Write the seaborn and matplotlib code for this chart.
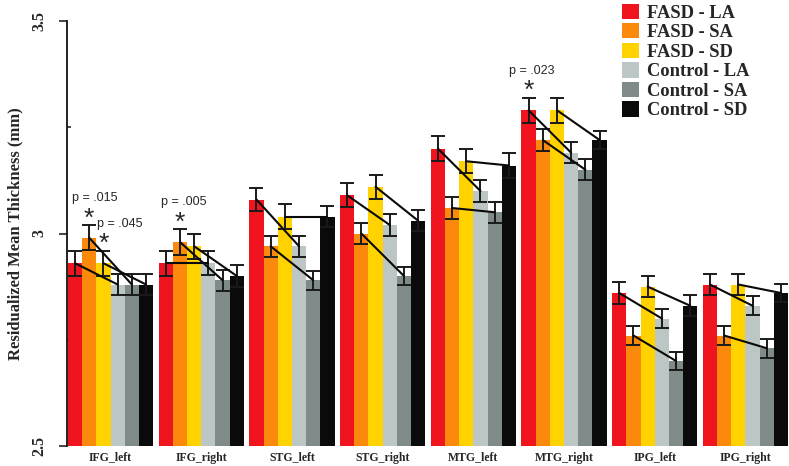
import numpy as np
import pandas as pd
import matplotlib
matplotlib.use("Agg")
import matplotlib.pyplot as plt
from matplotlib.patches import Patch
import seaborn as sns

#--> Data
regions = ["IFG_left", "IFG_right", "STG_left", "STG_right",
           "MTG_left", "MTG_right", "IPG_left", "IPG_right"]
groups = ["FASD - LA", "FASD - SA", "FASD - SD",
          "Control - LA", "Control - SA", "Control - SD"]

fasd_la = [2.93, 2.93, 3.08, 3.09, 3.20, 3.29, 2.86, 2.88]
fasd_sa = [2.99, 2.98, 2.97, 3.00, 3.06, 3.22, 2.76, 2.76]
fasd_sd = [2.93, 2.97, 3.04, 3.11, 3.17, 3.29, 2.875, 2.88]
ctrl_la = [2.88, 2.93, 2.97, 3.02, 3.10, 3.19, 2.80, 2.83]
ctrl_sa = [2.88, 2.89, 2.89, 2.90, 3.05, 3.15, 2.70, 2.73]
ctrl_sd = [2.88, 2.90, 3.04, 3.03, 3.16, 3.22, 2.83, 2.86]

fasd_la_se = [0.030, 0.030, 0.028, 0.028, 0.030, 0.030, 0.025, 0.025]
fasd_sa_se = [0.030, 0.030, 0.025, 0.025, 0.025, 0.025, 0.022, 0.022]
fasd_sd_se = [0.030, 0.030, 0.030, 0.028, 0.028, 0.030, 0.025, 0.025]
ctrl_la_se = [0.025, 0.028, 0.025, 0.025, 0.025, 0.025, 0.022, 0.022]
ctrl_sa_se = [0.025, 0.025, 0.022, 0.022, 0.025, 0.025, 0.022, 0.022]
ctrl_sd_se = [0.025, 0.025, 0.025, 0.025, 0.030, 0.022, 0.025, 0.022]

colors = ["#f0141e", "#fb8a0c", "#ffd200", "#bcc6c4", "#7e8b89", "#0a0a0a"]

# significance marks: (text, region index, group index, text offset in px)
p_notes = [("p = .015", 0, 1, 6), ("p = .045", 0, 2, 16),
           ("p = .005", 1, 1, 4), ("p = .023", 5, 0, 3)]

means = [fasd_la, fasd_sa, fasd_sd, ctrl_la, ctrl_sa, ctrl_sd]
ses = [fasd_la_se, fasd_sa_se, fasd_sd_se, ctrl_la_se, ctrl_sa_se, ctrl_sd_se]

df = pd.DataFrame({
    "region": np.tile(regions, len(groups)),
    "group": np.repeat(groups, len(regions)),
    "value": np.concatenate(means),
})

#--> Figure
sns.set_style("white")
plt.rcParams["font.family"] = ["Liberation Serif", "DejaVu Serif"]

fig = plt.figure(figsize=(7.89, 4.66), dpi=100)
ax = fig.add_axes([67 / 789, 20 / 466, 722 / 789, 425 / 466])

sns.barplot(data=df, x="region", y="value", hue="group", order=regions,
            hue_order=groups, palette=colors, saturation=1, width=0.94,
            errorbar=None, linewidth=0, legend=False, ax=ax)

# bar centres per group
centres = []
for cont in ax.containers:
    centres.append([b.get_x() + b.get_width() / 2 for b in cont])

# error bars
for i in range(len(groups)):
    ax.errorbar(centres[i], means[i], yerr=ses[i], fmt="none", ecolor="#1a1a1a",
                elinewidth=1.4, capsize=4.8, capthick=1.4, zorder=4)

# lines joining FASD and Control of the same measure
for i in range(3):
    for j in range(len(regions)):
        ax.plot([centres[i][j], centres[i + 3][j]], [means[i][j], means[i + 3][j]],
                color="#0a0a0a", lw=1.5, zorder=5)

# stars and p values
for txt, r, g, dx in p_notes:
    top = means[g][r] + ses[g][r]
    ax.annotate("*", (centres[g][r], top), xytext=(0, -4), textcoords="offset points",
                ha="center", va="bottom", fontsize=19, family="Liberation Sans")
    ax.annotate(txt, (centres[g][r], top), xytext=(dx * 0.72, 15),
                textcoords="offset points", ha="center", va="bottom",
                fontsize=9, family="Liberation Sans")

ax.set_ylim(2.5, 3.5)
ax.set_xlim(-0.48, 7.48)
ax.set_yticks([2.5, 3, 3.5])
ax.set_yticklabels(["2.5", "3", "3.5"], rotation=90, va="center",
                   fontsize=11.5, fontweight="bold")
ax.set_yticks([2.75, 3.25], minor=True)
ax.tick_params(axis="y", which="major", direction="out", length=6, width=1.2, left=True, pad=8)
ax.tick_params(axis="y", which="minor", direction="in", length=3, width=1.2, left=True)
ax.tick_params(axis="x", length=0, pad=4)
for lab in ax.get_xticklabels():
    lab.set_fontsize(8.5)
    lab.set_fontweight("bold")

ax.set_xlabel("")
ax.set_ylabel("Residualized Mean Thickness (mm)", fontsize=12, fontweight="bold", labelpad=6)

for s in ["top", "right", "bottom"]:
    ax.spines[s].set_visible(False)
ax.spines["left"].set_color("#111111")
ax.spines["left"].set_linewidth(1.3)

handles = [Patch(facecolor=c, edgecolor="none") for c in colors]
ax.legend(handles, groups, loc="upper left", bbox_to_anchor=(613 / 789, 1.012),
          bbox_transform=fig.transFigure, frameon=False, borderpad=0,
          handlelength=0.9, handleheight=0.9, handletextpad=0.45,
          labelspacing=0.08, prop={"family": "Liberation Serif", "weight": "bold", "size": 13.3})

fig.savefig("out.png", dpi=100)
